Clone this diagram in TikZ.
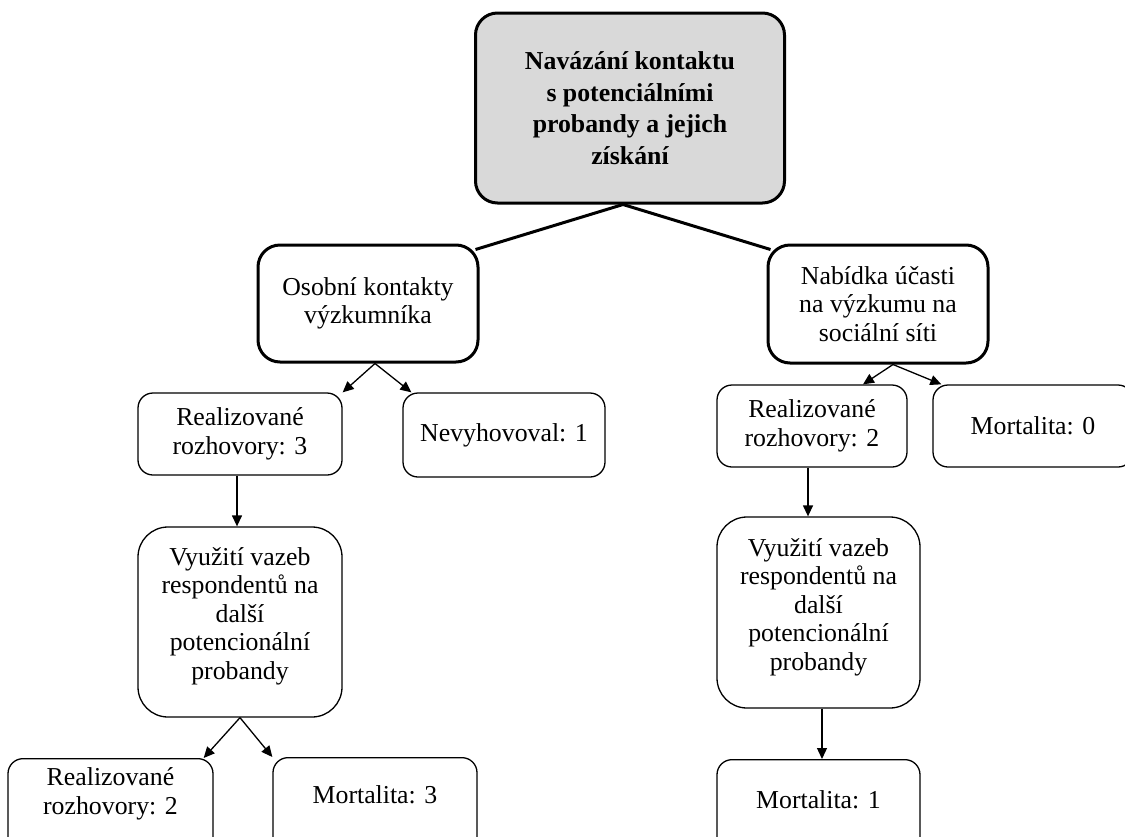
\documentclass[tikz,border=0pt]{standalone}
\usepackage{fontspec}
\setmainfont{Liberation Serif}
\usetikzlibrary{arrows.meta}
\begin{document}
\begin{tikzpicture}[x=1pt,y=-1pt,
  txt/.style={align=center, inner sep=0pt, text=black, font=\fontsize{25.8}{28.5}\selectfont},
  base/.style={txt, draw=black},
  thickbox/.style={base, line width=3pt, rounded corners=22pt},
  thinbox/.style={base, line width=1.3pt, rounded corners=15pt},
  tallbox/.style={base, line width=1.3pt, rounded corners=30pt},
  link/.style={line width=3pt},
  arr/.style={line width=1.3pt, -{Triangle[length=11pt,width=10pt]}},
]
\useasboundingbox (0,0) rectangle (1125,836);
\clip (0,0) rectangle (1125,836);

% top
\node[thickbox, fill=black!15, minimum width=309pt, minimum height=190pt,
      font=\fontsize{25.8}{31.5}\selectfont\bfseries] (top) at (630,108)
  {Navázání kontaktu\\s potenciálními\\probandy a jejich\\získání};

% level 1
\node[thickbox, minimum width=220pt, minimum height=117pt] (L1) at (368,303.5)
  {Osobní kontakty\\výzkumníka};
\node[thickbox, minimum width=220pt, minimum height=118pt] (R1) at (878,304)
  {Nabídka účasti\\na výzkumu na\\sociální síti};

% level 2
\node[thinbox, minimum width=204pt, minimum height=82pt] (L2a) at (240,434)
  {Realizované\\rozhovory: 3};
\node[thinbox, minimum width=202pt, minimum height=84pt] (L2b) at (504,435)
  {Nevyhovoval: 1};
\node[thinbox, minimum width=190pt, minimum height=82pt] (R2a) at (812,426)
  {Realizované\\rozhovory: 2};
\node[thinbox, minimum width=200pt, minimum height=82pt] (R2b) at (1033,426)
  {Mortalita: 0};

% level 3
\node[tallbox, minimum width=204pt, minimum height=190pt] (L3) at (240,622) {};
\node[txt] (L3t) at (240,616)
  {Využití vazeb\\respondentů na\\další\\potencionální\\probandy};
\node[tallbox, minimum width=203pt, minimum height=191pt] (R3) at (818.5,612.5) {};
\node[txt] (R3t) at (818.5,607)
  {Využití vazeb\\respondentů na\\další\\potencionální\\probandy};

% level 4 (cut by the bottom edge)
\node[thinbox, anchor=north, minimum width=205pt, minimum height=110pt] (L4a) at (110.5,758) {};
\node[txt] (L4at) at (110.5,794) {Realizované\\rozhovory: 2};
\node[thinbox, anchor=north, minimum width=204pt, minimum height=110pt] (L4b) at (375,757) {};
\node[txt] (L4bt) at (375,795) {Mortalita: 3};
\node[thinbox, anchor=north, minimum width=203pt, minimum height=110pt] (R4) at (818.5,759) {};
\node[txt] (R4t) at (818.5,800) {Mortalita: 1};

% connectors
\draw[link] ([xshift=-7pt]top.south) -- ([xshift=-4pt,yshift=-6pt]L1.north east);
\draw[link] ([xshift=-7pt]top.south) -- ([xshift=4pt,yshift=-6pt]R1.north west);

\draw[arr] ([xshift=7pt]L1.south) -- (L2a.north east);
\draw[arr] ([xshift=7pt]L1.south) -- ([xshift=9pt]L2b.north west);
\draw[arr] ([xshift=15pt]R1.south) -- ([xshift=51pt]R2a.north);
\draw[arr] ([xshift=15pt]R1.south) -- ([xshift=9pt]R2b.north west);

\draw[arr] ([xshift=-3pt]L2a.south) -- ([xshift=-3pt]L3.north);
\draw[arr] ([xshift=-4pt]R2a.south) -- ([xshift=-4pt]R2a.south |- R3.north);

\draw[arr] (L3.south) -- ([xshift=-10pt]L4a.north east);
\draw[arr] (L3.south) -- (L4b.north west);
\draw[arr] ([xshift=3.5pt]R3.south) -- ([xshift=3.5pt]R4.north);
\end{tikzpicture}
\end{document}
